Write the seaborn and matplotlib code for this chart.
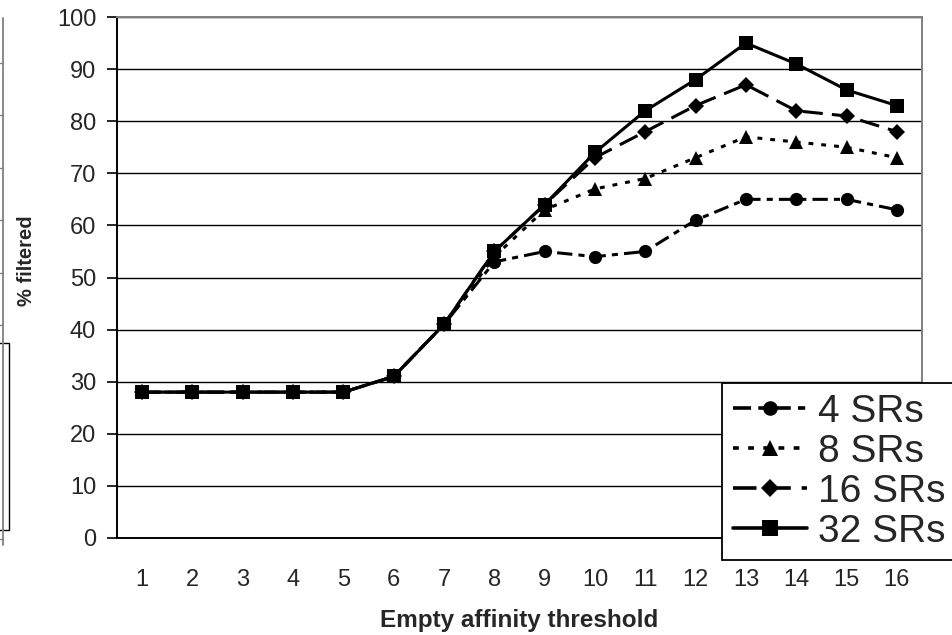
import matplotlib
matplotlib.use("Agg")
import matplotlib.pyplot as plt
import seaborn as sns
import pandas as pd
from matplotlib.lines import Line2D
from matplotlib.patches import Rectangle

# ---- data ----
thresholds = list(range(1, 17))
sr4 = [28, 28, 28, 28, 28, 31, 41, 53, 55, 54, 55, 61, 65, 65, 65, 63]
sr8 = [28, 28, 28, 28, 28, 31, 41, 54, 63, 67, 69, 73, 77, 76, 75, 73]
sr16 = [28, 28, 28, 28, 28, 31, 41, 55, 64, 73, 78, 83, 87, 82, 81, 78]
sr32 = [28, 28, 28, 28, 28, 31, 41, 55, 64, 74, 82, 88, 95, 91, 86, 83]
series_names = ["4 SRs", "8 SRs", "16 SRs", "32 SRs"]
y_ticks = list(range(0, 101, 10))

sns.set_style("white")
plt.rcParams["font.family"] = ["Liberation Sans", "DejaVu Sans"]

frames = []
for name, vals in zip(series_names, [sr4, sr8, sr16, sr32]):
    frames.append(pd.DataFrame({"threshold": thresholds, "pct": vals, "series": name}))
df = pd.concat(frames, ignore_index=True)

fig = plt.figure(figsize=(9.52, 6.35), dpi=100)
ax = fig.add_axes([117 / 952, 1 - 538 / 635, (922 - 117) / 952, (538 - 17) / 635])

LW = 2.2
dashes = {"4 SRs": (5, 2, 2, 2), "8 SRs": (1.6, 2.6), "16 SRs": (6.5, 3), "32 SRs": ""}
markers = {"4 SRs": "o", "8 SRs": "^", "16 SRs": "D", "32 SRs": "s"}
sns.lineplot(data=df, x="threshold", y="pct", style="series", style_order=series_names,
             dashes=dashes, markers=markers, color="black", linewidth=LW,
             markersize=9, markeredgewidth=0, ax=ax, legend=False)

msize = {"4 SRs": 9.5, "8 SRs": 10.5, "16 SRs": 8.5, "32 SRs": 10.5}
for line, name in zip(ax.lines, series_names):
    line.set_markersize(msize[name])
    line.set_color("black")
    line.set_markerfacecolor("black")

ax.set_xlim(0.5, 16.5)
ax.set_ylim(0, 100)
ax.set_yticks(y_ticks)
ax.set_xticks(thresholds)
ax.set_xticks([t + 0.5 for t in range(0, 17)], minor=True)
ax.tick_params(axis="x", which="major", length=0, pad=22, labelsize=17)
ax.tick_params(axis="x", which="minor", length=7, width=1.2, color="black", direction="out")
ax.tick_params(axis="y", which="major", length=7, width=1.2, color="black", direction="out",
               pad=8, labelsize=17, left=True)
ax.yaxis.grid(True, color="black", linewidth=1.0)
ax.xaxis.grid(False)
ax.set_axisbelow(True)

for s in ["left", "bottom"]:
    ax.spines[s].set_color("black")
    ax.spines[s].set_linewidth(1.4)
for s in ["top", "right"]:
    ax.spines[s].set_color("#808080")
    ax.spines[s].set_linewidth(1.4)

ax.set_xlabel("Empty affinity threshold", fontsize=17.5, fontweight="bold", va="center")
ax.set_ylabel("% filtered", fontsize=14.5, fontweight="bold", va="center", ha="center")
ax.xaxis.set_label_coords(0.5, (538 - 621) / 521)
ax.yaxis.set_label_coords((27 - 117) / 805, (538 - 261) / 521)

handles = []
for name in series_names:
    h = Line2D([], [], color="black", linewidth=LW + 0.4, marker=markers[name],
               markersize=msize[name] + 1, markeredgewidth=0)
    if dashes[name] != "":
        h.set_dashes(dashes[name])
    handles.append(h)
leg = ax.legend(handles, series_names, loc="upper left",
                bbox_to_anchor=(722 / 952, 1 - 383 / 635), bbox_transform=fig.transFigure,
                fontsize=28, frameon=True, fancybox=False, framealpha=1,
                edgecolor="black", borderaxespad=0, handlelength=1.9,
                handletextpad=0.3, labelspacing=0.1, borderpad=0.28)
leg.get_frame().set_linewidth(1.3)

# fragment of neighbouring chart at the left edge
fig.add_artist(Line2D([2.5 / 952, 2.5 / 952], [1 - 18 / 635, 1 - 545 / 635],
                      color="#808080", linewidth=1.3, transform=fig.transFigure))
for yy in [63, 115, 168, 220, 273, 325, 539]:
    fig.add_artist(Line2D([0, 2.5 / 952], [1 - yy / 635] * 2, color="#808080",
                          linewidth=1.0, transform=fig.transFigure))
fig.add_artist(Rectangle((-5 / 952, 1 - 530 / 635), 14 / 952, 187 / 635,
                         facecolor="white", edgecolor="black", linewidth=1.0,
                         transform=fig.transFigure))

fig.savefig("out.png", dpi=100)
